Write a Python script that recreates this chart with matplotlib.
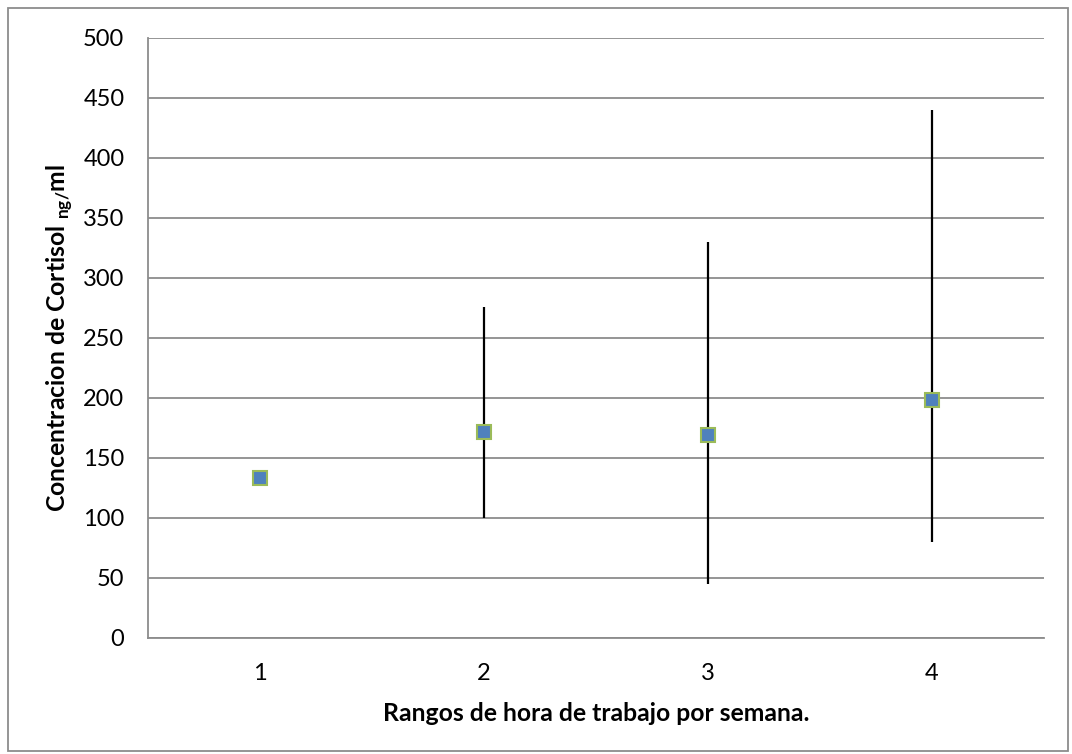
import matplotlib.pyplot as plt
import matplotlib as mpl
from matplotlib.patches import Rectangle
import numpy as np

mpl.rcParams['font.family'] = ['Lato', 'DejaVu Sans']
mpl.rcParams['mathtext.fontset'] = 'custom'
mpl.rcParams['mathtext.rm'] = 'Lato'
mpl.rcParams['mathtext.bf'] = 'Lato:bold'

# data
rangos = [1, 2, 3, 4]
media = np.array([133, 172, 169, 198])
minimo = np.array([133, 100, 45, 80])
maximo = np.array([133, 276, 330, 440])

fig = plt.figure(figsize=(10.72, 7.54), dpi=100)
ax = fig.add_axes([148 / 1072, 1 - 638 / 754, (1044 - 148) / 1072, 600 / 754])

yerr = [media - minimo, maximo - media]
ax.errorbar(rangos, media, yerr=yerr, fmt='none', ecolor='black', elinewidth=1.6, capsize=0, zorder=3)
ax.plot(rangos, media, 's', markersize=10, markerfacecolor='#4F81BD',
        markeredgecolor='#9BBB59', markeredgewidth=1.5, linestyle='none', zorder=4)

ax.set_xlim(0.5, 4.5)
ax.set_ylim(0, 500)
ax.set_xticks(rangos)
ax.set_yticks(np.arange(0, 501, 50))
ax.tick_params(length=0, labelsize=17)
ax.tick_params(axis='y', pad=17)
ax.tick_params(axis='x', pad=18)
ax.grid(axis='y', color='#8c8c8c', linewidth=1.3)
ax.set_axisbelow(True)
for s in ['top', 'right']:
    ax.spines[s].set_visible(False)
for s in ['left', 'bottom']:
    ax.spines[s].set_color('#8c8c8c')
    ax.spines[s].set_linewidth(1.3)

ax.set_xlabel('Rangos de hora de trabajo por semana.', fontsize=17.8, fontweight='bold', labelpad=13)
ax.set_ylabel(r'Concentracion de Cortisol $_{\mathbf{ng/}}$ml', fontsize=17.8, fontweight='bold', labelpad=6)

# borde exterior
fig.patches.append(Rectangle((8 / 1072, 3 / 754), 1060 / 1072, 743 / 754, transform=fig.transFigure,
                             fill=False, edgecolor='#8c8c8c', linewidth=1.3))

fig.savefig('out.png', dpi=100)
